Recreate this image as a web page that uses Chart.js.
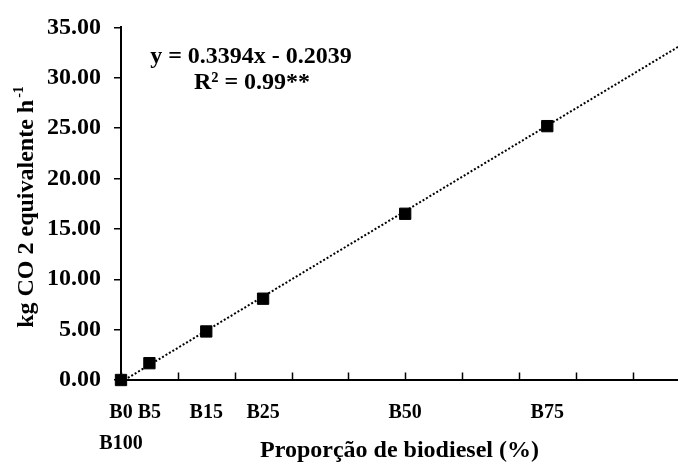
<!DOCTYPE html>
<html>
<head>
<meta charset="utf-8">
<script src="https://cdn.jsdelivr.net/npm/chart.js@4/dist/chart.umd.min.js"></script>
<style>
  html, body { margin: 0; padding: 0; background: #fff; }
  #wrap { width: 678px; height: 466px; }
</style>
</head>
<body>
<div id="wrap"><canvas id="c" width="678" height="466"></canvas></div>
<script>
// ---- data ----
const categories = ['B0', 'B5', 'B15', 'B25', 'B50', 'B75'];
const xValues = [0, 5, 15, 25, 50, 75];
const yValues = [0.00, 1.67, 4.82, 8.07, 16.50, 25.20];
const xTickLabels = [['B0', 'B100'], 'B5', 'B15', 'B25', 'B50', 'B75'];
const xTickMarks = [0, 10, 20, 30, 40, 50, 60, 70, 80, 90];
const trendX = [0, 98];
const trendY = [-0.2039, 33.06];
const equationText = 'y = 0.3394x - 0.2039';
const r2Text = 'R² = 0.99**';
const yTitle = 'kg CO 2 equivalente h';
const xTitle = 'Proporção de biodiesel (%)';

const FONT = "'Liberation Serif', 'Times New Roman', serif";

const innerTicks = {
  id: 'innerTicks',
  afterDatasetsDraw(chart) {
    const ctx = chart.ctx, xs = chart.scales.x, area = chart.chartArea;
    ctx.save();
    ctx.strokeStyle = '#000';
    ctx.lineWidth = 1.5;
    xTickMarks.forEach(v => {
      const px = Math.round(xs.getPixelForValue(v)) + 0.5;
      ctx.beginPath();
      ctx.moveTo(px, area.bottom);
      ctx.lineTo(px, area.bottom - 7.5);
      ctx.stroke();
    });
    ctx.restore();
  }
};

const annotations = {
  id: 'annotations',
  afterDraw(chart) {
    const ctx = chart.ctx;
    ctx.save();
    ctx.fillStyle = '#000';
    ctx.font = 'bold 24px ' + FONT;
    ctx.textAlign = 'center';
    ctx.textBaseline = 'alphabetic';
    ctx.fillText(equationText, 251, 63);
    ctx.fillText(r2Text, 252, 89);
    ctx.restore();
  }
};

const yTitlePlugin = {
  id: 'yTitleSup',
  afterDraw(chart) {
    const ctx = chart.ctx;
    ctx.save();
    ctx.fillStyle = '#000';
    ctx.font = 'bold 24px ' + FONT;
    const w = ctx.measureText(yTitle).width;
    ctx.font = 'bold 14px ' + FONT;
    const ws = ctx.measureText('-1').width;
    const total = w + ws + 2;
    const cy = 207;
    ctx.translate(33, cy);
    ctx.rotate(-Math.PI / 2);
    ctx.textBaseline = 'alphabetic';
    ctx.textAlign = 'left';
    ctx.font = 'bold 24px ' + FONT;
    ctx.fillText(yTitle, -total / 2, 0);
    ctx.font = 'bold 14px ' + FONT;
    ctx.fillText('-1', -total / 2 + w + 2, -10);
    ctx.restore();
  }
};

new Chart(document.getElementById('c'), {
  type: 'scatter',
  data: {
    datasets: [
      {
        type: 'line',
        label: 'Tendência',
        data: trendX.map((x, i) => ({ x: x, y: trendY[i] })),
        borderColor: '#000',
        borderWidth: 2,
        borderDash: [2, 2],
        pointRadius: 0,
        fill: false,
        order: 2
      },
      {
        label: 'kg CO2 equivalente',
        data: xValues.map((x, i) => ({ x: x, y: yValues[i] })),
        pointStyle: 'rect',
        pointRadius: 8,
        pointHoverRadius: 8,
        backgroundColor: '#000',
        borderColor: '#000',
        borderWidth: 1,
        clip: false,
        order: 1
      }
    ]
  },
  options: {
    responsive: false,
    animation: false,
    layout: { autoPadding: false, padding: { top: 24, right: 0, left: 0, bottom: 0 } },
    plugins: {
      legend: { display: false },
      tooltip: { enabled: false }
    },
    scales: {
      x: {
        type: 'linear',
        min: 0,
        max: 98,
        afterBuildTicks: (scale) => { scale.ticks = xValues.map(v => ({ value: v })); },
        afterFit: (scale) => { scale.height = 86; },
        ticks: {
          autoSkip: false,
          maxRotation: 0,
          padding: 17,
          color: '#000',
          font: { family: FONT, size: 20, weight: 'bold', lineHeight: 1.55 },
          callback: (v) => { const i = xValues.indexOf(v); return i >= 0 ? xTickLabels[i] : ''; }
        },
        grid: { display: false, drawTicks: false },
        border: { display: true, color: '#000', width: 2 },
        title: {
          display: true,
          text: xTitle,
          color: '#000',
          font: { family: FONT, size: 24, weight: 'bold' },
          padding: { top: 0, bottom: 1 }
        }
      },
      y: {
        min: 0,
        max: 35,
        afterFit: (scale) => { scale.width = 121; },
        ticks: {
          stepSize: 5,
          padding: 13,
          color: '#000',
          font: { family: FONT, size: 24, weight: 'bold' },
          callback: (v) => Number(v).toFixed(2)
        },
        grid: { drawOnChartArea: false, drawTicks: true, tickLength: 7, color: '#000', lineWidth: 1.5 },
        border: { display: true, color: '#000', width: 2 }
      }
    }
  },
  plugins: [innerTicks, annotations, yTitlePlugin]
});
</script>
</body>
</html>
